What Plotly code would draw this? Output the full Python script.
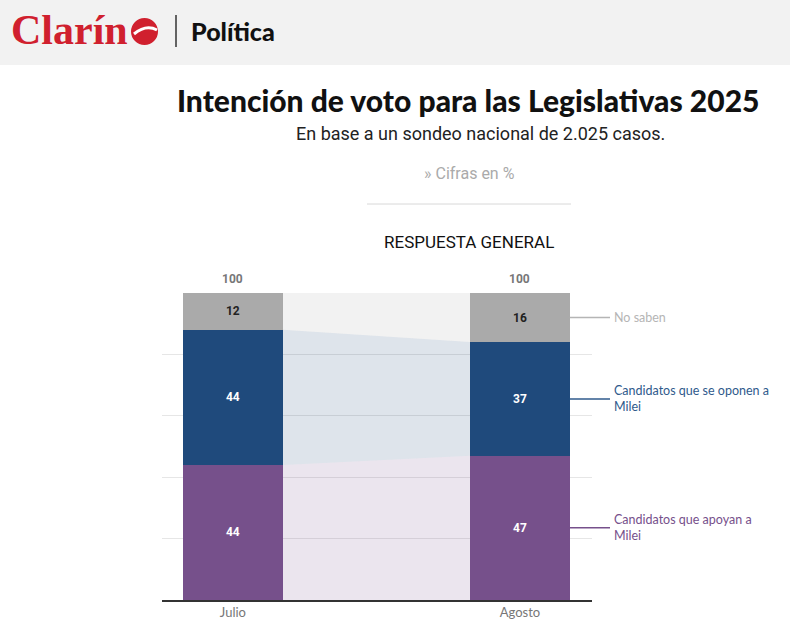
import plotly.graph_objects as go

# datos
meses = ["Julio", "Agosto"]
apoyan = [44, 47]
oponen = [44, 37]
no_saben = [12, 16]
totales = [100, 100]

serie_nombres = ["Candidatos que apoyan a<br>Milei", "Candidatos que se oponen a<br>Milei", "No saben"]
colores = ["#76508b", "#1f4a7c", "#aaaaaa"]
colores_banda = ["rgba(118,80,139,0.15)", "rgba(31,74,124,0.15)", "rgba(170,170,170,0.15)"]
colores_etiqueta = ["#76508b", "#2f5a8c", "#b5b5b5"]
colores_texto_barra = ["white", "white", "#222222"]

# geometria (pixeles del area de grafico)
L, R, T, B = 162, 592, 293, 600
ancho_barra = 0.348
x_rango = [-0.247, 1.251]


def px_x(p):
    return (p - L) / (R - L)


def px_y(p):
    return (B - p) / (B - T)


def data_a_paper(x):
    return (x - x_rango[0]) / (x_rango[1] - x_rango[0])


xs = list(range(len(meses)))
series = [apoyan, oponen, no_saben]

fig = go.Figure()

# bandas de conexion entre barras
base = [0] * len(meses)
for vals, col in zip(series, colores_banda):
    techo = [b + v for b, v in zip(base, vals)]
    x_izq = xs[0] + ancho_barra / 2
    x_der = xs[1] - ancho_barra / 2
    fig.add_trace(go.Scatter(
        x=[x_izq, x_der, x_der, x_izq, x_izq],
        y=[base[0], base[1], techo[1], techo[0], base[0]],
        fill="toself", fillcolor=col, mode="lines", line=dict(width=0),
        hoverinfo="skip", showlegend=False))
    base = techo

# barras apiladas
for vals, col, tcol, nombre in zip(series, colores, colores_texto_barra, serie_nombres):
    fig.add_trace(go.Bar(
        x=xs, y=vals, width=ancho_barra, marker=dict(color=col, line=dict(width=0)),
        text=[str(v) for v in vals], textposition="inside", insidetextanchor="middle",
        textangle=0, constraintext="none",
        textfont=dict(family="Roboto", size=12, color=tcol, weight="bold"),
        name=nombre, showlegend=False, hoverinfo="skip"))

fig.update_layout(
    barmode="stack",
    width=790, height=639,
    margin=dict(l=L, r=790 - R, t=T, b=639 - B),
    paper_bgcolor="white", plot_bgcolor="white",
    font=dict(family="Lato", color="#333"),
    xaxis=dict(range=x_rango, tickvals=xs, ticktext=meses, showgrid=False,
               showline=True, linecolor="#333", linewidth=1.5, zeroline=False,
               tickfont=dict(family="Lato", size=13, color="#777"), ticks=""),
    yaxis=dict(range=[0, 100], tickvals=[0, 20, 40, 60, 80, 100], showticklabels=False,
               gridcolor="#e6e6e6", gridwidth=1, zeroline=False, showline=False),
)

# totales arriba
for x, t in zip(xs, totales):
    fig.add_annotation(x=x, y=t, text=f"<b>{t}</b>", showarrow=False, yanchor="bottom",
                       yshift=5, font=dict(family="Roboto", size=12, color="#777"))

# etiquetas a la derecha con lineas guia
base = 0
x_fin_barra = data_a_paper(xs[-1] + ancho_barra / 2)
for vals, lcol, nombre in zip(series, colores_etiqueta, serie_nombres):
    centro = base + vals[-1] / 2
    fig.add_shape(type="line", xref="paper", yref="y", x0=x_fin_barra, x1=px_x(610),
                  y0=centro, y1=centro, line=dict(color=lcol, width=1.5))
    fig.add_annotation(xref="paper", yref="y", x=px_x(612), y=centro, text=nombre,
                       showarrow=False, xanchor="left", align="left",
                       font=dict(family="Lato", size=12.5, color=lcol))
    base += vals[-1]

# cabecera
fig.add_shape(type="rect", xref="paper", yref="paper", x0=px_x(0), x1=px_x(790),
              y0=px_y(65), y1=px_y(0), fillcolor="#f2f2f2", line=dict(width=0), layer="below")
fig.add_annotation(xref="paper", yref="paper", x=px_x(9), y=px_y(30), text="<b>Clarín</b>",
                   showarrow=False, xanchor="left", yanchor="middle",
                   font=dict(family="Liberation Serif", size=42, color="#d0202e"))
fig.add_shape(type="circle", xref="paper", yref="paper", x0=px_x(131), x1=px_x(158),
              y0=px_y(45), y1=px_y(18), fillcolor="#d0202e", line=dict(width=0))
fig.add_shape(type="path", xref="paper", yref="paper",
              path=f"M {px_x(134)},{px_y(34)} Q {px_x(146)},{px_y(24)} {px_x(157)},{px_y(30)}",
              line=dict(color="white", width=3))
fig.add_shape(type="line", xref="paper", yref="paper", x0=px_x(176), x1=px_x(176),
              y0=px_y(15), y1=px_y(47), line=dict(color="#333", width=1.5))
fig.add_annotation(xref="paper", yref="paper", x=px_x(189), y=px_y(31), text="Política",
                   showarrow=False, xanchor="left", yanchor="middle",
                   font=dict(family="Lato Black, Lato", size=25, color="#111", weight=900))

# titulos
fig.add_annotation(xref="paper", yref="paper", x=px_x(468), y=px_y(100),
                   text="Intención de voto para las Legislativas 2025", showarrow=False,
                   xanchor="center", yanchor="middle",
                   font=dict(family="Lato Black, Lato", size=30, color="#111", weight=900))
fig.add_annotation(xref="paper", yref="paper", x=px_x(480), y=px_y(133),
                   text="En base a un sondeo nacional de 2.025 casos.", showarrow=False,
                   xanchor="center", yanchor="middle",
                   font=dict(family="Roboto", size=18, color="#222"))
fig.add_annotation(xref="paper", yref="paper", x=px_x(469), y=px_y(173),
                   text="» Cifras en %", showarrow=False, xanchor="center", yanchor="middle",
                   font=dict(family="Roboto", size=16, color="#aaa"))
fig.add_shape(type="line", xref="paper", yref="paper", x0=px_x(367), x1=px_x(571),
              y0=px_y(204), y1=px_y(204), line=dict(color="#d8d8d8", width=1))
fig.add_annotation(xref="paper", yref="paper", x=px_x(469), y=px_y(242),
                   text="RESPUESTA GENERAL", showarrow=False, xanchor="center", yanchor="middle",
                   font=dict(family="Roboto", size=17, color="#111"))

# sin margen del body para que el grafico quede en 0,0
fig.write_html("out.html", config={"displayModeBar": False},
               post_script="document.body.style.margin='0';")
